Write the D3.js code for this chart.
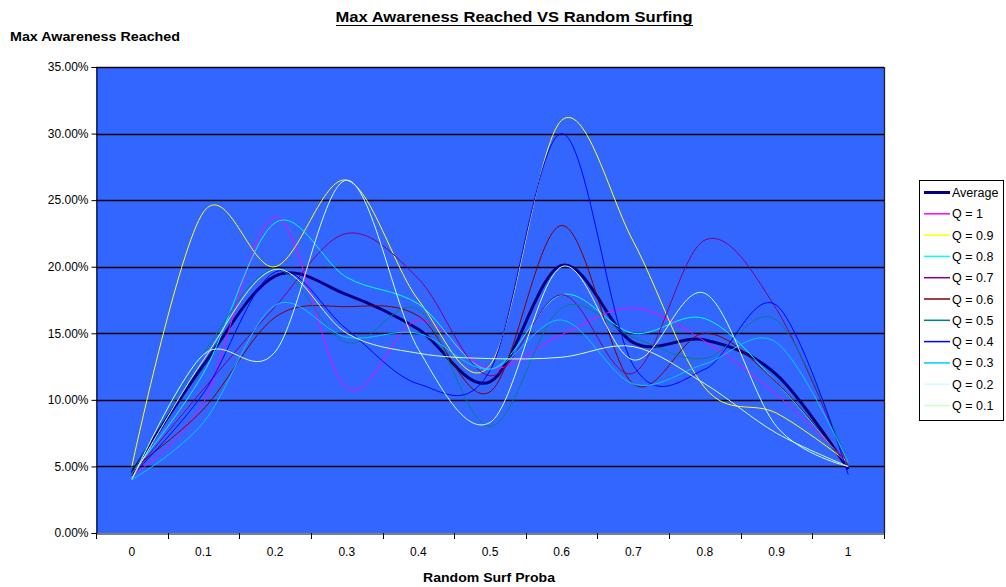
<!DOCTYPE html>
<html>
<head>
<meta charset="utf-8">
<script src="https://cdn.jsdelivr.net/npm/d3@7"></script>
<style>
  html, body { margin: 0; padding: 0; background: #ffffff; }
  svg { display: block; font-family: "Liberation Sans", Arial, sans-serif; }
</style>
</head>
<body>
<svg id="chart" width="1006" height="587"></svg>
<script>
// ---- data (percent values) ----
const categories = ["0", "0.1", "0.2", "0.3", "0.4", "0.5", "0.6", "0.7", "0.8", "0.9", "1"];
const yTickValues = [0, 5, 10, 15, 20, 25, 30, 35];

const seriesNames = ["Average", "Q = 1", "Q = 0.9", "Q = 0.8", "Q = 0.7", "Q = 0.6",
                     "Q = 0.5", "Q = 0.4", "Q = 0.3", "Q = 0.2", "Q = 0.1"];
const average = [4.5, 12.6, 19.3, 17.9, 15.3, 11.35, 20.1, 14.3, 14.5, 11.9, 4.8];
const q10 = [4.3, 9.8, 23.7, 10.9, 16.0, 12.35, 14.9, 16.9, 14.4, 10.4, 5.3];
const q09 = [5.0, 24.1, 20.0, 26.5, 17.5, 12.6, 31.0, 21.9, 10.9, 9.0, 5.3];
const q08 = [4.5, 12.0, 23.3, 19.2, 17.2, 12.3, 17.9, 15.0, 16.1, 11.3, 5.0];
const q07 = [4.3, 10.8, 17.0, 22.5, 19.1, 11.8, 17.9, 12.0, 22.0, 16.8, 5.0];
const q06 = [4.8, 9.3, 16.2, 17.0, 16.3, 10.6, 23.1, 11.2, 15.0, 11.3, 5.0];
const q05 = [4.4, 13.5, 19.8, 14.3, 16.8, 8.0, 16.9, 14.7, 13.1, 16.0, 5.2];
const q04 = [4.3, 10.5, 19.6, 15.3, 11.2, 12.2, 30.0, 12.6, 12.3, 17.1, 4.4];
const q03 = [4.0, 8.3, 17.1, 14.7, 15.0, 12.3, 16.0, 11.2, 12.7, 14.3, 5.3];
const q02 = [4.0, 13.4, 13.6, 26.5, 13.8, 8.3, 20.0, 13.0, 18.0, 8.0, 5.0];
const q01 = [4.1, 13.0, 19.8, 15.0, 13.5, 13.1, 13.2, 14.0, 11.2, 7.5, 5.0];

const seriesValues = [average, q10, q09, q08, q07, q06, q05, q04, q03, q02, q01];
const seriesColors = ["#000080", "#FF00FF", "#FFFF00", "#00FFFF", "#800080", "#800000",
                      "#008080", "#0000FF", "#00CCFF", "#CCFFFF", "#CCFFCC"];
const seriesWidths = [3, 1, 1, 1, 1, 1, 1, 1, 1, 1, 1];

// ---- layout ----
const plot = { left: 96, right: 884, top: 67, bottom: 533 };
const svg = d3.select("#chart");

const xBand = d3.scaleBand().domain(categories).range([plot.left, plot.right]).padding(0);
const x = d => xBand(d) + xBand.bandwidth() / 2;
const y = d3.scaleLinear().domain([0, 35]).range([plot.bottom, plot.top]);

// plot area
svg.append("rect")
  .attr("x", plot.left).attr("y", plot.top)
  .attr("width", plot.right - plot.left).attr("height", plot.bottom - plot.top)
  .attr("fill", "#3366FF");

// gridlines
svg.append("g").selectAll("line").data(yTickValues.filter(v => v > 0))
  .join("line")
  .attr("x1", plot.left).attr("x2", plot.right)
  .attr("y1", d => Math.round(y(d)) + 0.5).attr("y2", d => Math.round(y(d)) + 0.5)
  .attr("stroke", "#000").attr("stroke-width", 1.3);

// plot border (right side)
svg.append("line")
  .attr("x1", plot.right + 0.5).attr("x2", plot.right + 0.5)
  .attr("y1", plot.top).attr("y2", plot.bottom)
  .attr("stroke", "#222").attr("stroke-width", 1.3);

// series
const line = d3.line()
  .x((d, i) => x(categories[i]))
  .y(d => y(d))
  .curve(d3.curveCardinal.tension(0));

svg.append("g").selectAll("path").data(seriesValues)
  .join("path")
  .attr("d", d => line(d))
  .attr("fill", "none")
  .attr("stroke", (d, i) => seriesColors[i])
  .attr("stroke-width", (d, i) => seriesWidths[i])
  .attr("stroke-linejoin", "round");

// y axis
const yAxis = d3.axisLeft(y).tickValues(yTickValues).tickSize(5).tickPadding(3)
  .tickFormat(d => d.toFixed(2) + "%");
const gy = svg.append("g").attr("transform", `translate(${plot.left + 0.5},0)`).call(yAxis);
gy.select(".domain").attr("stroke", "#000");
gy.selectAll(".tick line").attr("stroke", "#000");
gy.selectAll(".tick text").attr("font-size", 12).attr("fill", "#000")
  .attr("font-family", "Liberation Sans, Arial, sans-serif");

// x axis
const xAxis = d3.axisBottom(xBand).tickSize(0).tickPadding(14);
const gx = svg.append("g").attr("transform", `translate(0,${plot.bottom + 0.5})`).call(xAxis);
gx.select(".domain").attr("stroke", "#000");
gx.selectAll(".tick text").attr("font-size", 12).attr("fill", "#000")
  .attr("font-family", "Liberation Sans, Arial, sans-serif");
// tick marks at category boundaries
const boundaries = categories.map(c => xBand(c)).concat([plot.right]);
svg.append("g").selectAll("line").data(boundaries)
  .join("line")
  .attr("x1", d => Math.round(d) + 0.5).attr("x2", d => Math.round(d) + 0.5)
  .attr("y1", plot.bottom).attr("y2", plot.bottom + 6)
  .attr("stroke", "#000");

// titles
svg.append("text")
  .attr("x", 514).attr("y", 22)
  .attr("text-anchor", "middle")
  .attr("font-size", 15).attr("font-weight", "bold")
  .attr("textLength", 357).attr("lengthAdjust", "spacingAndGlyphs")
  .text("Max Awareness Reached VS Random Surfing");
svg.append("line")
  .attr("x1", 336).attr("x2", 693).attr("y1", 25.5).attr("y2", 25.5)
  .attr("stroke", "#000").attr("stroke-width", 1.2);

svg.append("text")
  .attr("x", 10).attr("y", 41)
  .attr("font-size", 13).attr("font-weight", "bold")
  .attr("textLength", 170).attr("lengthAdjust", "spacingAndGlyphs")
  .text("Max Awareness Reached");

svg.append("text")
  .attr("x", 489).attr("y", 582)
  .attr("text-anchor", "middle")
  .attr("font-size", 13).attr("font-weight", "bold")
  .attr("textLength", 132).attr("lengthAdjust", "spacingAndGlyphs")
  .text("Random Surf Proba");

// legend
const legend = svg.append("g");
legend.append("rect")
  .attr("x", 919.5).attr("y", 180.5).attr("width", 84).attr("height", 240)
  .attr("fill", "#fff").attr("stroke", "#000").attr("stroke-width", 1);
const rowY = i => 192.5 + i * 21.3;
legend.selectAll("line.lg").data(seriesNames)
  .join("line")
  .attr("class", "lg")
  .attr("x1", 924).attr("x2", 950)
  .attr("y1", (d, i) => rowY(i)).attr("y2", (d, i) => rowY(i))
  .attr("stroke", (d, i) => seriesColors[i])
  .attr("stroke-width", (d, i) => seriesWidths[i] === 3 ? 3 : 1.5);
legend.selectAll("text").data(seriesNames)
  .join("text")
  .attr("x", 952).attr("y", (d, i) => rowY(i) + 4.5)
  .attr("font-size", 12.5)
  .text(d => d);
</script>
</body>
</html>
